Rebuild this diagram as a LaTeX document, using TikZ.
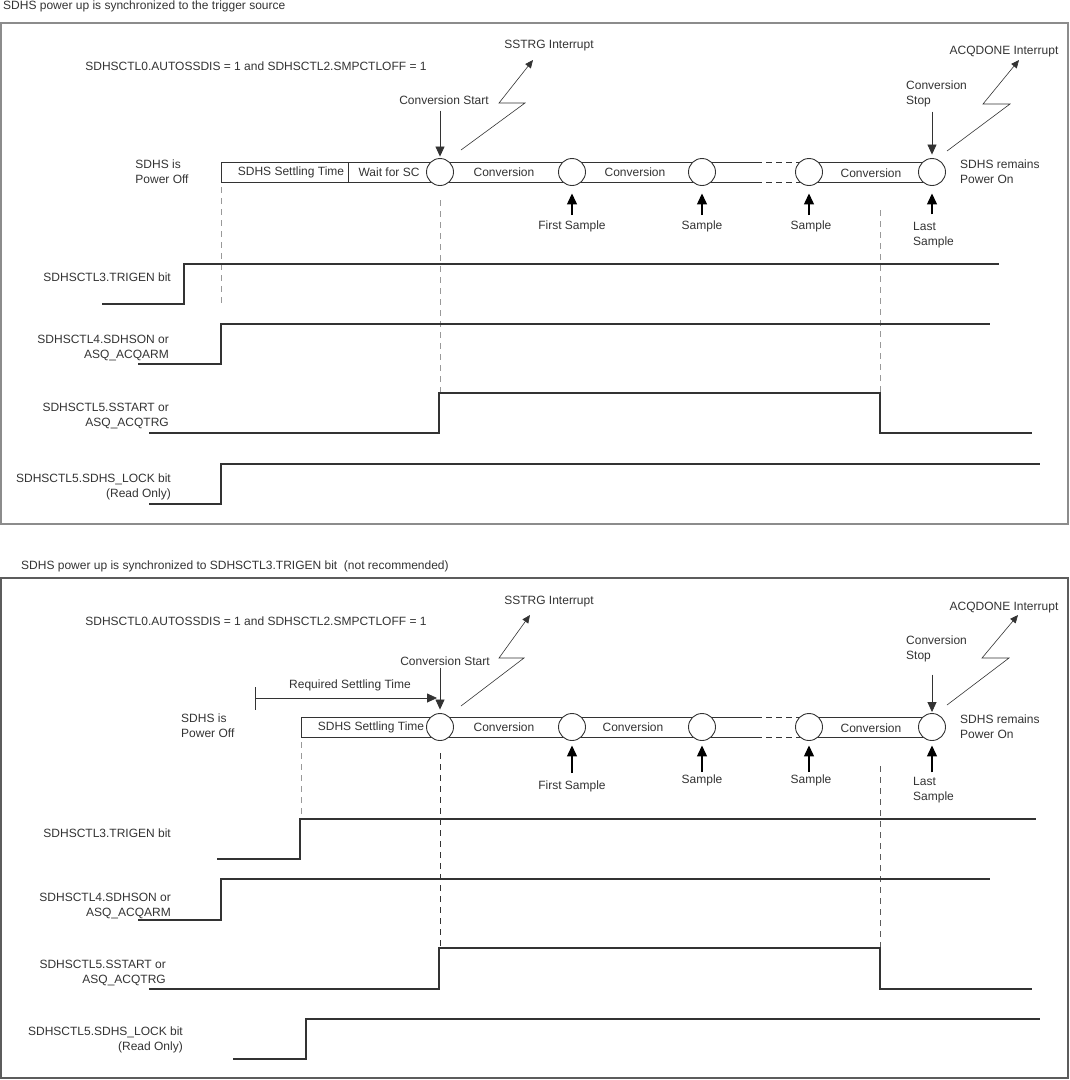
\documentclass[tikz,border=0pt]{standalone}
\usepackage{fontspec}
\setmainfont{Liberation Sans}
\usetikzlibrary{arrows.meta}
\definecolor{ink}{HTML}{333333}
\definecolor{rim}{HTML}{8C8C8C}
\definecolor{guidegray}{HTML}{999999}

\begin{document}
\begin{tikzpicture}[x=1pt, y=-1pt, font=\fontsize{12}{14.5}\selectfont, text=ink,
	lbl/.style={inner sep=0pt},
	frame/.style={draw=rim, line width=1.2pt},
	box/.style={draw=ink, line width=0.9pt},
	sig/.style={draw=ink, line width=1.4pt},
	guide/.style={draw=guidegray, line width=0.9pt, dash pattern=on 6pt off 5pt},
	smp/.style={circle, draw=ink, fill=white, line width=0.9pt, minimum size=27pt, inner sep=0pt},
	dnarr/.style={draw=ink, line width=0.8pt, -{Triangle[length=10pt, width=9pt]}},
	uparr/.style={draw=black, line width=1.3pt, -{Triangle[length=11pt, width=10pt]}},
	bolt/.style={draw=ink, line width=0.6pt, -{Triangle[length=8pt, width=7pt]}}]

	\useasboundingbox (0,0) rectangle (1070,1080);

	% Trigger source
	\node[lbl, anchor=west] (tA) at (3,6) {SDHS power up is synchronized to the trigger source};
	\draw[frame] (1,23) rectangle (1068,524);
	\node[lbl] (cfgA) at (256,66) {SDHSCTL0.AUTOSSDIS = 1 and SDHSCTL2.SMPCTLOFF = 1};

	\draw[box] (221,162) rectangle (348,182);
	\draw[box] (348,162) -- (756,162) (348,182) -- (756,182);
	\draw[box, dash pattern=on 6pt off 4pt] (756,162) -- (799,162) (756,182) -- (799,182);
	\draw[box] (799,162) -- (932,162) (799,182) -- (932,182);
	\node[smp] (a0) at (440,172) {};
	\node[smp] (a1) at (572,172) {};
	\node[smp] (a2) at (702,172) {};
	\node[smp] (a3) at (809,172) {};
	\node[smp] (a4) at (932,172) {};
	\node[lbl] (offA) at (162,173) {\begin{tabular}{@{}l@{}}SDHS is\\Power Off\end{tabular}};
	\node[lbl] (setA) at (291,172) {SDHS Settling Time};
	\node[lbl] (waitA) at (389,172) {Wait for SC};
	\node[lbl] (cvA1) at (504,172) {Conversion};
	\node[lbl] (cvA2) at (635,172) {Conversion};
	\node[lbl] (cvA3) at (871,173) {Conversion};
	\node[lbl, anchor=west] (onA) at (960,173) {\begin{tabular}{@{}l@{}}SDHS remains\\Power On\end{tabular}};

	\node[lbl] (csA) at (444,100) {Conversion Start};
	\draw[dnarr, shorten <=6pt, shorten >=1.5pt] (a0 |- csA.south) -- (a0.north);
	\node[lbl, anchor=west] (cpA) at (906,94) {\begin{tabular}{@{}l@{}}Conversion\\Stop\end{tabular}};
	\draw[dnarr, shorten <=3pt, shorten >=3.5pt] (a4 |- cpA.south) -- (a4.north);

	\node[lbl] (irqA1) at (549,46) {SSTRG Interrupt};
	\coordinate (zA1) at (461,150);
	\coordinate (zA1e) at (533,60);
	\draw[bolt] (zA1) -- (525,103) -- (499,103) -- (zA1e);
	\node[lbl] (irqA2) at (1004,52) {ACQDONE Interrupt};
	\coordinate (zA2) at (947,151);
	\coordinate (zA2e) at (1019,60);
	\draw[bolt] (zA2) -- (1010,104) -- (983,104) -- (zA2e);

	\node[lbl] (fsA) at (572,226) {First Sample};
	\draw[uparr, shorten <=5pt, shorten >=7.5pt] (fsA.north) -- (a1.south);
	\node[lbl] (smA2) at (702,226) {Sample};
	\draw[uparr, shorten <=5pt, shorten >=7.5pt] (smA2.north) -- (a2.south);
	\node[lbl] (smA3) at (811,226) {Sample};
	\draw[uparr, shorten <=5pt, shorten >=7.5pt] (a3 |- smA3.north) -- (a3.south);
	\node[lbl, anchor=west] (lsA) at (913,235) {\begin{tabular}{@{}l@{}}Last\\Sample\end{tabular}};
	\draw[uparr, shorten <=6pt, shorten >=7.5pt] (a4 |- lsA.north) -- (a4.south);

	\draw[guide] (221,187) -- (221,304);
	\draw[guide] (440,200) -- (440,393);
	\draw[guide] (880,210) -- (880,393);

	\node[lbl, anchor=east] (trgA) at (171,277) {SDHSCTL3.TRIGEN bit};
	\draw[sig] (102,304) -- (184,304) -- (184,264) -- (999,264);
	\node[lbl, anchor=east] (onbA) at (169,348) {\begin{tabular}{@{}r@{}}SDHSCTL4.SDHSON or\\ASQ\_ACQARM\end{tabular}};
	\draw[sig] (138,364) -- (221,364) -- (221,324) -- (990,324);
	\node[lbl, anchor=east] (ssA) at (169,416) {\begin{tabular}{@{}r@{}}SDHSCTL5.SSTART or\\ASQ\_ACQTRG\end{tabular}};
	\draw[sig] (149,433) -- (439,433) -- (439,393) -- (880,393) -- (880,433) -- (1032,433);
	\node[lbl, anchor=east] (lkA) at (171,487) {\begin{tabular}{@{}r@{}}SDHSCTL5.SDHS\_LOCK bit\\(Read Only)\end{tabular}};
	\draw[sig] (149,504) -- (221,504) -- (221,464) -- (1040,464);

	% TRIGEN bit
	\node[lbl, anchor=west] (tB) at (21,566) {SDHS power up is synchronized to SDHSCTL3.TRIGEN bit ~(not recommended)};
	\draw[frame, draw=ink!80] (1,578) rectangle (1068,1078);
	\node[lbl] (cfgB) at (256,621) {SDHSCTL0.AUTOSSDIS = 1 and SDHSCTL2.SMPCTLOFF = 1};

	\draw[box] (301,717) rectangle (440,737);
	\draw[box] (440,717) -- (756,717) (440,737) -- (756,737);
	\draw[box, dash pattern=on 6pt off 4pt] (756,717) -- (799,717) (756,737) -- (799,737);
	\draw[box] (799,717) -- (932,717) (799,737) -- (932,737);
	\node[smp] (b0) at (440,727) {};
	\node[smp] (b1) at (572,727) {};
	\node[smp] (b2) at (702,727) {};
	\node[smp] (b3) at (809,727) {};
	\node[smp] (b4) at (932,727) {};
	\node[lbl, anchor=west] (offB) at (181,727) {\begin{tabular}{@{}l@{}}SDHS is\\Power Off\end{tabular}};
	\node[lbl] (setB) at (371,727) {SDHS Settling Time};
	\node[lbl] (cvB1) at (504,727) {Conversion};
	\node[lbl] (cvB2) at (633,727) {Conversion};
	\node[lbl] (cvB3) at (871,728) {Conversion};
	\node[lbl, anchor=west] (onB) at (960,728) {\begin{tabular}{@{}l@{}}SDHS remains\\Power On\end{tabular}};

	\node[lbl] (rqB) at (350,685) {Required Settling Time};
	\coordinate (rsB) at (255,698);
	\coordinate (rsBe) at (437,698);
	\draw[box] (255,687) -- (255,710);
	\draw[dnarr] (rsB) -- (rsBe);

	\node[lbl] (csB) at (445,661) {Conversion Start};
	\draw[dnarr, shorten <=2pt, shorten >=3.5pt] (b0 |- csB.south) -- (b0.north);
	\node[lbl, anchor=west] (cpB) at (906,649) {\begin{tabular}{@{}l@{}}Conversion\\Stop\end{tabular}};
	\draw[dnarr, shorten <=11pt, shorten >=1pt] (b4 |- cpB.south) -- (b4.north);

	\node[lbl] (irqB1) at (549,602) {SSTRG Interrupt};
	\coordinate (zB1) at (461,706);
	\coordinate (zB1e) at (530,615);
	\draw[bolt] (zB1) -- (524,658) -- (499,658) -- (zB1e);
	\node[lbl] (irqB2) at (1004,608) {ACQDONE Interrupt};
	\coordinate (zB2) at (947,705);
	\coordinate (zB2e) at (1018,615);
	\draw[bolt] (zB2) -- (1009,658) -- (982,658) -- (zB2e);

	\node[lbl] (fsB) at (572,786) {First Sample};
	\draw[uparr, shorten <=7pt, shorten >=4.5pt] (fsB.north) -- (b1.south);
	\node[lbl] (smB2) at (702,780) {Sample};
	\draw[uparr, shorten <=2pt, shorten >=4.5pt] (smB2.north) -- (b2.south);
	\node[lbl] (smB3) at (811,780) {Sample};
	\draw[uparr, shorten <=2pt, shorten >=4.5pt] (b3 |- smB3.north) -- (b3.south);
	\node[lbl, anchor=west] (lsB) at (913,790) {\begin{tabular}{@{}l@{}}Last\\Sample\end{tabular}};
	\draw[uparr, shorten <=3pt, shorten >=4.5pt] (b4 |- lsB.north) -- (b4.south);

	\draw[guide] (301,742) -- (301,818);
	\draw[guide, draw=ink] (440,753) -- (440,948);
	\draw[guide, draw=ink!80] (880,766) -- (880,948);

	\node[lbl, anchor=east] (trgB) at (171,833) {SDHSCTL3.TRIGEN bit};
	\draw[sig] (217,859) -- (300,859) -- (300,819) -- (1036,819);
	\node[lbl, anchor=east] (onbB) at (171,906) {\begin{tabular}{@{}r@{}}SDHSCTL4.SDHSON or\\ASQ\_ACQARM\end{tabular}};
	\draw[sig] (138,920) -- (221,920) -- (221,879) -- (990,879);
	\node[lbl, anchor=east] (ssB) at (166,973) {\begin{tabular}{@{}r@{}}SDHSCTL5.SSTART or\\ASQ\_ACQTRG\end{tabular}};
	\draw[sig] (149,989) -- (439,989) -- (439,948) -- (880,948) -- (880,989) -- (1032,989);
	\node[lbl, anchor=east] (lkB) at (183,1040) {\begin{tabular}{@{}r@{}}SDHSCTL5.SDHS\_LOCK bit\\(Read Only)\end{tabular}};
	\draw[sig] (233,1059) -- (306,1059) -- (306,1019) -- (1040,1019);
\end{tikzpicture}
\end{document}
